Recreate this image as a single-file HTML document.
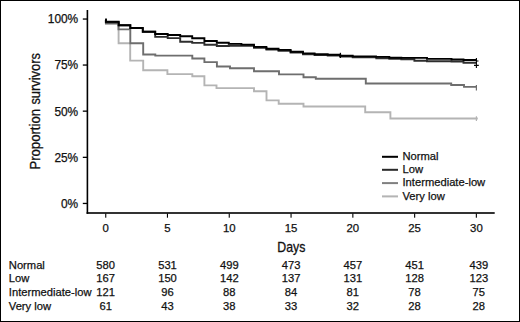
<!DOCTYPE html>
<html><head><meta charset="utf-8"><style>
html,body{margin:0;padding:0;background:#fff;}
body{width:520px;height:322px;overflow:hidden;position:relative;}
.frame{position:absolute;left:0;top:0;width:520px;height:322px;box-sizing:border-box;border:1px solid #000;}
svg{position:absolute;left:0;top:0;}
.t{font-family:"Liberation Sans",sans-serif;font-size:11.2px;fill:#111;stroke:#111;stroke-width:0.25px;}
.ky{font-family:"Liberation Sans",sans-serif;font-size:11.9px;fill:#111;stroke:#111;stroke-width:0.25px;}
.k{font-family:"Liberation Sans",sans-serif;font-size:11.4px;fill:#111;stroke:#111;stroke-width:0.25px;}
.big{font-family:"Liberation Sans",sans-serif;font-size:14px;fill:#111;stroke:#111;stroke-width:0.3px;}
</style></head><body>
<svg width="520" height="322" viewBox="0 0 520 322">
<rect x="86.6" y="10" width="1.6" height="203.8" fill="#000"/>
<rect x="86.6" y="212.2" width="408.1" height="1.6" fill="#000"/>
<rect x="82.8" y="18.4" width="4.2" height="1.3" fill="#000"/>
<text x="78.2" y="23.0" text-anchor="end" class="ky">100%</text>
<rect x="82.8" y="64.4" width="4.2" height="1.3" fill="#000"/>
<text x="78.2" y="69.2" text-anchor="end" class="ky">75%</text>
<rect x="82.8" y="110.5" width="4.2" height="1.3" fill="#000"/>
<text x="78.2" y="115.5" text-anchor="end" class="ky">50%</text>
<rect x="82.8" y="156.7" width="4.2" height="1.3" fill="#000"/>
<text x="78.2" y="162.0" text-anchor="end" class="ky">25%</text>
<rect x="82.8" y="202.8" width="4.2" height="1.3" fill="#000"/>
<text x="78.2" y="208.0" text-anchor="end" class="ky">0%</text>
<rect x="105.2" y="213.5" width="1.1" height="4.2" fill="#000"/>
<text x="105.7" y="232" text-anchor="middle" class="k">0</text>
<rect x="166.9" y="213.5" width="1.1" height="4.2" fill="#000"/>
<text x="167.5" y="232" text-anchor="middle" class="k">5</text>
<rect x="228.7" y="213.5" width="1.1" height="4.2" fill="#000"/>
<text x="229.3" y="232" text-anchor="middle" class="k">10</text>
<rect x="290.5" y="213.5" width="1.1" height="4.2" fill="#000"/>
<text x="291.1" y="232" text-anchor="middle" class="k">15</text>
<rect x="352.3" y="213.5" width="1.1" height="4.2" fill="#000"/>
<text x="352.8" y="232" text-anchor="middle" class="k">20</text>
<rect x="414.1" y="213.5" width="1.1" height="4.2" fill="#000"/>
<text x="414.6" y="232" text-anchor="middle" class="k">25</text>
<rect x="475.8" y="213.5" width="1.1" height="4.2" fill="#000"/>
<text x="476.4" y="232" text-anchor="middle" class="k">30</text>
<path d="M105.2 19.8 H105.9 V23.8 H118.6 V43.3 H130.2 V60.6 H143.2 V70.3 H167.4 V74.1 H192.3 V76.2 H204.4 V85.4 H216.5 V88.1 H254.0 V91.2 H266.5 V100.4 H278.7 V103.8 H303.5 V106.5 H365.2 V112.3 H390.4 V118.5 H477.8" fill="none" stroke="#b4b4b4" stroke-width="1.9" stroke-linejoin="miter" stroke-linecap="butt"/>
<path d="M105.2 19.8 H105.9 V23.3 H118.5 V29.4 H130.3 V43.3 H143.2 V54.5 H155.3 V55.6 H192.3 V58.5 H204.4 V62.1 H216.9 V66.5 H230.0 V68.3 H254.0 V71.2 H279.0 V74.4 H303.5 V77.3 H315.8 V78.7 H365.8 V83.5 H451.2 V85.0 H464.0 V86.9 H477.0" fill="none" stroke="#6e6e6e" stroke-width="1.9" stroke-linejoin="miter" stroke-linecap="butt"/>
<path d="M105.2 19.8 H105.9 V22.3 H118.7 V25.3 H130.3 V28.1 H142.8 V31.8 H155.2 V36.9 H167.7 V38.1 H180.2 V41.8 H192.2 V42.9 H204.4 V44.8 H216.8 V46.0 H228.8 V45.7 H241.4 V45.7 H254.0 V47.9 H266.4 V49.6 H278.5 V50.7 H290.6 V52.6 H303.0 V54.4 H314.6 V55.0 H327.7 V55.6 H340.2 V56.6 H352.7 V57.4 H376.3 V58.2 H389.3 V58.9 H401.3 V59.2 H414.4 V60.8 H427.0 V61.3 H451.5 V61.5 H463.5 V62.7 H476.6" fill="none" stroke="#2e2e2e" stroke-width="1.9" stroke-linejoin="miter" stroke-linecap="butt"/>
<path d="M105.2 19.8 H105.9 V21.7 H118.7 V25.2 H130.3 V28.0 H142.8 V31.7 H155.2 V34.0 H167.7 V35.0 H180.2 V36.3 H192.2 V38.2 H204.4 V41.0 H216.8 V42.7 H228.8 V43.9 H241.4 V44.6 H254.0 V46.9 H266.4 V48.7 H278.5 V49.9 H290.6 V51.7 H303.0 V53.4 H314.6 V54.2 H327.7 V54.8 H340.2 V55.7 H352.7 V56.4 H376.0 V56.9 H389.3 V57.7 H401.3 V57.9 H427.0 V58.9 H451.5 V59.5 H463.5 V60.0 H476.6" fill="none" stroke="#000" stroke-width="1.9" stroke-linejoin="miter" stroke-linecap="butt"/>
<path d="M476.4 58 V68 M474 65.4 H478.8 M476 61 H478.5" stroke="#000" stroke-width="1.1" fill="none"/>
<path d="M476.4 85 V90.5" stroke="#6e6e6e" stroke-width="1.2" fill="none"/>
<path d="M476.4 116.3 V121" stroke="#b4b4b4" stroke-width="1.2" fill="none"/>
<rect x="339.8" y="52.8" width="1.2" height="5.2" fill="#000"/>
<rect x="382" y="155.8" width="16" height="2" fill="#000"/>
<text x="402.5" y="160.1" class="t">Normal</text>
<rect x="382" y="168.8" width="16" height="2" fill="#2a2a2a"/>
<text x="402.5" y="173.1" class="t">Low</text>
<rect x="382" y="182.1" width="16" height="2" fill="#808080"/>
<text x="402.5" y="186.4" class="t">Intermediate-low</text>
<rect x="382" y="195.4" width="16" height="2" fill="#b4b4b4"/>
<text x="402.5" y="199.7" class="t">Very low</text>
<text x="0" y="0" class="big" text-anchor="middle" transform="translate(291.3 252.2) scale(0.88 1)">Days</text>
<text x="0" y="0" class="big" transform="translate(40.3 169.6) rotate(-90) scale(0.94 1)">Proportion</text>
<text x="0" y="0" class="big" transform="translate(40.3 104.6) rotate(-90) scale(0.92 1)">survivors</text>
<text x="8.8" y="269.0" class="t">Normal</text>
<text x="105.7" y="269.0" text-anchor="middle" class="t">580</text>
<text x="167.5" y="269.0" text-anchor="middle" class="t">531</text>
<text x="229.3" y="269.0" text-anchor="middle" class="t">499</text>
<text x="291.1" y="269.0" text-anchor="middle" class="t">473</text>
<text x="352.8" y="269.0" text-anchor="middle" class="t">457</text>
<text x="414.6" y="269.0" text-anchor="middle" class="t">451</text>
<text x="478.8" y="269.0" text-anchor="middle" class="t">439</text>
<text x="8.8" y="282.4" class="t">Low</text>
<text x="105.7" y="282.4" text-anchor="middle" class="t">167</text>
<text x="167.5" y="282.4" text-anchor="middle" class="t">150</text>
<text x="229.3" y="282.4" text-anchor="middle" class="t">142</text>
<text x="291.1" y="282.4" text-anchor="middle" class="t">137</text>
<text x="352.8" y="282.4" text-anchor="middle" class="t">131</text>
<text x="414.6" y="282.4" text-anchor="middle" class="t">128</text>
<text x="478.8" y="282.4" text-anchor="middle" class="t">123</text>
<text x="8.8" y="295.9" class="t">Intermediate-low</text>
<text x="105.7" y="295.9" text-anchor="middle" class="t">121</text>
<text x="167.5" y="295.9" text-anchor="middle" class="t">96</text>
<text x="229.3" y="295.9" text-anchor="middle" class="t">88</text>
<text x="291.1" y="295.9" text-anchor="middle" class="t">84</text>
<text x="352.8" y="295.9" text-anchor="middle" class="t">81</text>
<text x="414.6" y="295.9" text-anchor="middle" class="t">78</text>
<text x="478.8" y="295.9" text-anchor="middle" class="t">75</text>
<text x="8.8" y="310.0" class="t">Very low</text>
<text x="105.7" y="310.0" text-anchor="middle" class="t">61</text>
<text x="167.5" y="310.0" text-anchor="middle" class="t">43</text>
<text x="229.3" y="310.0" text-anchor="middle" class="t">38</text>
<text x="291.1" y="310.0" text-anchor="middle" class="t">33</text>
<text x="352.8" y="310.0" text-anchor="middle" class="t">32</text>
<text x="414.6" y="310.0" text-anchor="middle" class="t">28</text>
<text x="478.8" y="310.0" text-anchor="middle" class="t">28</text>
</svg>
<div class="frame"></div>
</body></html>
